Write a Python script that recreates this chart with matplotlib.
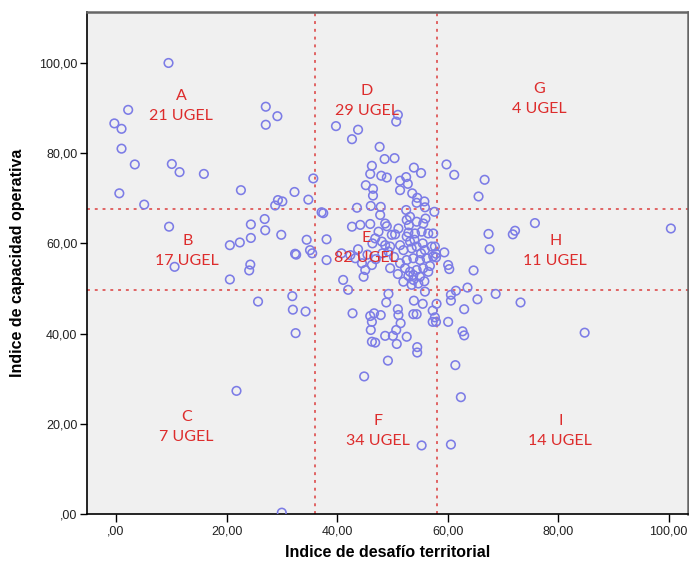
import matplotlib
matplotlib.use("Agg")
import matplotlib.pyplot as plt

# ---- data ----
# region A (low desafio, high capacidad)
a_x = [9.5, 2.2, -0.3, 1.0, 1.0, 3.4, 10.1, 11.5, 15.9, 27.1, 29.2, 27.1, 35.7, 0.6, 5.1, 22.6, 32.3, 34.8, 29.3, 30.1, 28.8]
a_y = [100.0, 89.6, 86.6, 85.4, 81.0, 77.5, 77.6, 75.8, 75.4, 90.3, 88.2, 86.3, 74.4, 71.1, 68.6, 71.8, 71.4, 69.7, 69.6, 69.3, 68.4]
# region B
b_x = [9.6, 24.4, 26.9, 27.0, 29.9, 24.4, 22.4, 20.6, 34.5, 35.1, 35.5, 32.4, 32.6, 10.6, 24.3, 24.1, 20.6]
b_y = [63.7, 64.2, 65.4, 62.9, 61.9, 61.2, 60.2, 59.6, 60.8, 58.5, 57.8, 57.7, 57.5, 54.8, 55.3, 54.0, 52.0]
# region C
c_x = [25.7, 31.9, 32.0, 34.3, 32.5, 21.8, 30.0]
c_y = [47.1, 48.3, 45.3, 44.9, 40.1, 27.3, 0.3]
# region D
d_x = [51.0, 50.7, 39.8, 43.8, 42.7, 47.7, 48.6, 50.4, 46.3, 46.0, 48.0, 49.0, 53.9, 55.2, 52.5,
       51.4, 52.8, 45.2, 46.5, 51.4, 46.5, 53.6, 54.5, 55.8, 54.4, 43.6, 46.1, 47.9, 55.9]
d_y = [88.5, 87.0, 86.0, 85.2, 83.1, 81.4, 78.7, 78.9, 77.2, 75.4, 75.0, 74.6, 76.8, 75.6, 74.7,
       73.9, 73.2, 72.9, 72.1, 71.8, 70.6, 71.1, 70.1, 69.3, 69.0, 67.9, 68.3, 68.1, 68.0]
# region E
e_x = [37.5, 37.2, 47.8, 52.5, 57.6, 48.7, 42.7, 44.2, 46.0, 47.5, 49.9, 51.1, 52.6, 53.2, 54.4,
       55.6, 52.9, 54.1, 55.3, 56.5, 57.4, 52.6, 53.2, 38.1, 46.9, 48.1, 48.7, 49.6, 49.3, 51.4,
       52.0, 53.5, 54.4, 55.9, 57.1, 57.7, 38.1, 40.8, 42.4, 43.3, 44.5, 45.1, 46.3, 49.6, 51.4,
       52.6, 53.8, 55.0, 56.2, 57.4, 57.9, 57.9, 52.3, 53.2, 53.8, 54.4, 55.0, 53.8, 52.9, 55.6,
       56.5, 54.7, 41.1, 43.8, 45.5, 47.0, 48.2, 50.3, 51.0, 52.0, 53.5, 55.8, 56.8, 54.0, 55.5,
       50.5, 49.0, 56.0, 44.8, 46.4, 53.0, 55.2]
e_y = [66.7, 66.9, 66.3, 67.4, 67.0, 64.4, 63.7, 64.1, 64.3, 62.6, 61.9, 63.3, 65.2, 65.9, 64.8,
       64.4, 62.4, 62.2, 62.6, 62.2, 62.2, 61.5, 60.4, 60.9, 61.1, 60.4, 59.6, 59.3, 58.2, 59.6,
       58.5, 58.9, 59.3, 58.5, 59.3, 59.3, 56.3, 57.8, 57.4, 56.7, 55.6, 54.1, 55.2, 54.5, 55.6,
       56.3, 56.7, 56.3, 56.7, 57.1, 57.7, 56.9, 54.5, 53.7, 53.0, 54.1, 52.6, 51.9, 52.8, 54.5,
       53.7, 51.1, 51.9, 58.7, 57.5, 56.5, 57.8, 57.0, 53.2, 51.5, 50.8, 51.6, 55.0, 60.8, 60.0,
       62.0, 63.8, 65.5, 52.6, 60.0, 64.0, 57.8]
# region F
f_x = [42.0, 49.3, 48.9, 55.9, 42.8, 46.0, 46.7, 47.9, 46.3, 51.0, 51.1, 51.5, 53.9, 55.5, 53.8,
       54.4, 58.0, 57.3, 57.3, 57.7, 57.9, 46.1, 48.7, 50.1, 50.7, 52.6, 46.3, 46.9, 50.8, 54.5,
       54.5, 49.2, 44.9, 55.3]
f_y = [49.7, 48.8, 46.9, 49.3, 44.5, 43.9, 44.5, 44.1, 42.6, 45.4, 44.1, 42.3, 47.3, 46.6, 44.3,
       44.3, 46.6, 45.1, 42.6, 43.6, 42.6, 40.8, 39.5, 39.5, 40.8, 39.3, 38.2, 38.0, 37.7, 37.0,
       35.8, 34.0, 30.5, 15.2]
# region G
g_x = [59.8, 61.2, 66.7, 65.6]
g_y = [77.5, 75.2, 74.1, 70.4]
# region H
h_x = [75.8, 72.2, 71.8, 67.4, 67.6, 100.4, 59.4, 60.1, 60.3, 64.7, 63.6]
h_y = [64.5, 62.8, 62.0, 62.1, 58.7, 63.3, 58.0, 55.2, 54.3, 54.0, 50.2]
# region I
i_x = [61.5, 60.6, 60.6, 65.4, 68.7, 73.2, 63.0, 60.1, 62.7, 63.0, 84.8, 61.4, 62.4, 60.6]
i_y = [49.5, 48.6, 47.3, 47.6, 48.8, 46.9, 45.4, 42.6, 40.5, 39.6, 40.2, 33.0, 25.9, 15.4]

cut_x = [36.0, 58.1]
cut_y = [49.7, 67.6]

zone_names = ["A", "B", "C", "D", "E", "F", "G", "H", "I"]
zone_counts = [21, 17, 7, 29, 82, 34, 4, 11, 14]
zone_lx = [11.8, 12.9, 12.7, 45.4, 45.2, 47.4, 76.6, 79.5, 80.4]
zone_ly = [90.5, 58.3, 19.3, 91.6, 59.0, 18.4, 92.0, 58.3, 18.4]

x_ticks = [0, 20, 40, 60, 80, 100]
y_ticks = [0, 20, 40, 60, 80, 100]
x_label = "Indice de desafío territorial"
y_label = "Indice de capacidad operativa"

# ---- plot ----
fig = plt.figure(figsize=(6.89, 5.63), dpi=100)
ax = fig.add_axes([87/689, 49/563, (688-87)/689, (514-12)/563])
ax.set_facecolor("#F0F0F0")

all_x = a_x + b_x + c_x + d_x + e_x + f_x + g_x + h_x + i_x
all_y = a_y + b_y + c_y + d_y + e_y + f_y + g_y + h_y + i_y
ax.scatter(all_x, all_y, s=38, facecolors="none", edgecolors="#7C7CE6",
           linewidths=1.15, zorder=3, clip_on=True)

for v in cut_x:
    ax.axvline(v, color="#E06464", lw=1.4, ls=(0, (1.5, 2.5)), zorder=2)
for v in cut_y:
    ax.axhline(v, color="#E06464", lw=1.4, ls=(0, (1.5, 2.5)), zorder=2)

for n, c, lx, ly in zip(zone_names, zone_counts, zone_lx, zone_ly):
    ax.text(lx, ly, f"{n}\n{c} UGEL", ha="center", va="center", color="#DD2C2C",
            fontsize=11.5, family=["Lato", "DejaVu Sans"], linespacing=1.6, zorder=4)

ax.set_xlim(-5.25, 103.5)
ax.set_ylim(0, 111.3)

def fmt(v):
    s = f"{v:.2f}".replace(".", ",")
    return s[1:] if s.startswith("0") else s

ax.set_xticks(x_ticks)
ax.set_xticklabels([fmt(v) for v in x_ticks])
ax.set_yticks(y_ticks)
ax.set_yticklabels([fmt(v) for v in y_ticks])
tick_font = ["Liberation Sans Narrow", "Liberation Sans", "DejaVu Sans"]
for lab in ax.get_xticklabels() + ax.get_yticklabels():
    lab.set_family(tick_font)
    lab.set_fontsize(9)
    lab.set_color("#222222")
ax.tick_params(axis="x", length=6, width=1, direction="out", pad=2)
ax.tick_params(axis="y", length=5, width=1, direction="out", pad=2)

ax.set_xlabel(x_label, fontsize=11.5, fontweight="bold",
              family=["Liberation Sans Narrow", "Liberation Sans", "DejaVu Sans"], labelpad=6)
ax.set_ylabel(y_label, fontsize=11.5, fontweight="bold",
              family=["Liberation Sans Narrow", "Liberation Sans", "DejaVu Sans"], labelpad=10)

for side in ["left", "bottom"]:
    ax.spines[side].set_color("black")
    ax.spines[side].set_linewidth(1.2)
for side in ["top", "right"]:
    ax.spines[side].set_color("#666666")
    ax.spines[side].set_linewidth(1.8)

fig.savefig("out.png", dpi=100, facecolor="white")
